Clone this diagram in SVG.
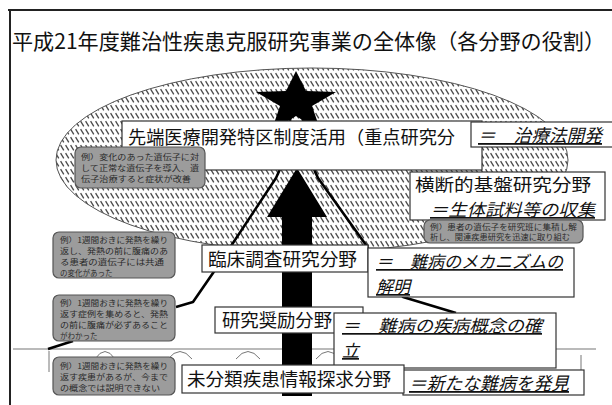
<svg xmlns="http://www.w3.org/2000/svg" width="612" height="405" viewBox="0 0 612 405">
<defs>
<pattern id="hatch" width="5" height="8" patternUnits="userSpaceOnUse">
<rect width="5" height="8" fill="#ffffff"/>
<line x1="0.6" y1="1.2" x2="3.8" y2="6.3" stroke="#4a4a4a" stroke-width="1.3"/>
</pattern>
<style>
.t{font-family:"Noto Sans CJK JP","Noto Sans CJK SC",sans-serif;fill:#111;}
.lbl{font-size:18px;}
.it{font-size:18px;font-style:italic;text-decoration:underline;}
.it2{font-size:17px;font-style:italic;text-decoration:underline;}
.box{fill:#fff;stroke:#333;stroke-width:1.2;}
.gbox{fill:#9c9c9c;stroke:#555;stroke-width:1.2;}
.gt{font-family:"Noto Sans CJK JP",sans-serif;font-size:7.5px;fill:#2a2a2a;}
.ln{fill:none;stroke:#000;stroke-width:2.6;stroke-linejoin:round;}
.thin{fill:none;stroke:#777;stroke-width:1;}
</style>
</defs>
<rect width="612" height="405" fill="#ffffff"/>
<g id="frame">
<line x1="8" y1="10" x2="612" y2="10" stroke="#222" stroke-width="2"/>
<line x1="10" y1="10" x2="10" y2="405" stroke="#222" stroke-width="2"/>
</g>
<g id="title">
<text class="t" x="12" y="49" font-size="21" textLength="593" lengthAdjust="spacingAndGlyphs">平成21年度難治性疾患克服研究事業の全体像（各分野の役割）</text>
</g>
<g id="ellipse">
<ellipse cx="312" cy="160" rx="256" ry="92" fill="url(#hatch)" stroke="#555" stroke-width="1"/>
</g>
<g id="ground">
<line x1="13" y1="349" x2="596" y2="349" stroke="#777" stroke-width="1.2"/>
<path class="thin" d="M95 359 Q105 344 115 359 M168 359 Q180 344 192 359 M236 359 Q248 344 260 359 M316 359 Q328 344 340 359"/>
<line x1="49" y1="351" x2="49" y2="372" stroke="#777" stroke-width="1"/>
<line x1="581" y1="355" x2="581" y2="371" stroke="#777" stroke-width="1"/>
</g>
<g id="star">
<polygon points="296,71 306,91 336,92 312,106 321,132 296,116 271,132 280,106 256,92 286,91" fill="#000"/>
</g>
<g id="connectors">
<path class="ln" d="M291 112 C288 140 285 160 276 178 L233 243 L213 273 L193 302 L176 307"/>
<path class="ln" d="M302 112 C305 140 309 160 318 178 L366 245 L380 270 L403 297 L456 313"/>
<path class="ln" d="M48 349 L73 341"/>
</g>
<g id="arrow">
<polygon points="297,168 327,217 312,217 312,396 282,396 282,217 267,217" fill="#000"/>
</g>
<g id="node-sentan">
<rect class="box" x="122" y="121" width="360" height="49"/>
<text class="t lbl" x="128" y="144" textLength="327" lengthAdjust="spacingAndGlyphs">先端医療開発特区制度活用（重点研究分</text>
</g>
<g id="node-chiryo">
<rect class="box" x="471" y="122" width="145" height="25"/>
<text class="t it" x="478" y="142" textLength="124" lengthAdjust="spacingAndGlyphs">＝　治療法開発</text>
</g>
<g id="node-oudan">
<rect class="box" x="410" y="172" width="195" height="48"/>
<text class="t lbl" x="415" y="191" font-size="17" textLength="176" lengthAdjust="spacingAndGlyphs" style="font-size:17px">横断的基盤研究分野</text>
<text class="t it2" x="430" y="216" textLength="165" lengthAdjust="spacingAndGlyphs">＝生体試料等の収集</text>
</g>
<g id="node-rinsho">
<rect class="box" x="202" y="245" width="166" height="27"/>
<text class="t lbl" x="208" y="266" textLength="149" lengthAdjust="spacingAndGlyphs">臨床調査研究分野</text>
</g>
<g id="node-mechanism">
<rect class="box" x="368" y="248" width="206" height="49"/>
<text class="t it2" x="376" y="268" textLength="187" lengthAdjust="spacingAndGlyphs">＝　難病のメカニズムの</text>
<text class="t it2" x="376" y="293">解明</text>
</g>
<g id="node-shorei">
<rect class="box" x="215" y="307" width="148" height="26"/>
<text class="t lbl" x="222" y="327" textLength="110" lengthAdjust="spacingAndGlyphs">研究奨励分野</text>
</g>
<g id="node-gainen">
<rect class="box" x="334" y="313" width="222" height="55"/>
<text class="t it2" x="342" y="332" textLength="200" lengthAdjust="spacingAndGlyphs">＝　難病の疾病概念の確</text>
<text class="t it2" x="342" y="357">立</text>
</g>
<g id="node-hakken">
<rect class="box" x="403" y="370" width="181" height="25"/>
<text class="t it" x="409" y="390" textLength="160" lengthAdjust="spacingAndGlyphs">＝新たな難病を発見</text>
</g>
<g id="node-mibunrui">
<rect class="box" x="182" y="365" width="222" height="28"/>
<text class="t lbl" x="187" y="386" textLength="204" lengthAdjust="spacingAndGlyphs">未分類疾患情報探求分野</text>
</g>
<g id="note-1">
<rect class="gbox" x="75" y="147" width="130" height="41" rx="6"/>
<text class="gt" x="81" y="160" textLength="118" lengthAdjust="spacingAndGlyphs">例）変化のあった遺伝子に対</text>
<text class="gt" x="81" y="171" textLength="118" lengthAdjust="spacingAndGlyphs">して正常な遺伝子を導入、遺</text>
<text class="gt" x="81" y="182" textLength="110" lengthAdjust="spacingAndGlyphs">伝子治療すると症状が改善</text>
</g>
<g id="note-2">
<rect class="gbox" x="53" y="232" width="122" height="46" rx="6"/>
<text class="gt" x="60" y="243" textLength="108" lengthAdjust="spacingAndGlyphs">例）1週間おきに発熱を繰り</text>
<text class="gt" x="60" y="254" textLength="108" lengthAdjust="spacingAndGlyphs">返し、発熱の前に腹痛のあ</text>
<text class="gt" x="60" y="265" textLength="104" lengthAdjust="spacingAndGlyphs">る患者の遺伝子には共通</text>
<text class="gt" x="60" y="276">の変化があった</text>
</g>
<g id="note-3">
<rect class="gbox" x="53" y="295" width="122" height="46" rx="6"/>
<text class="gt" x="60" y="306" textLength="108" lengthAdjust="spacingAndGlyphs">例）1週間おきに発熱を繰り</text>
<text class="gt" x="60" y="317" textLength="108" lengthAdjust="spacingAndGlyphs">返す症例を集めると、発熱</text>
<text class="gt" x="60" y="328" textLength="108" lengthAdjust="spacingAndGlyphs">の前に腹痛が必ずあること</text>
<text class="gt" x="60" y="339">がわかった</text>
</g>
<g id="note-4">
<rect class="gbox" x="53" y="357" width="122" height="38" rx="6"/>
<text class="gt" x="60" y="369" textLength="108" lengthAdjust="spacingAndGlyphs">例）1週間おきに発熱を繰り</text>
<text class="gt" x="60" y="380" textLength="108" lengthAdjust="spacingAndGlyphs">返す疾患があるが、今まで</text>
<text class="gt" x="60" y="391" textLength="100" lengthAdjust="spacingAndGlyphs">の概念では説明できない</text>
</g>
<g id="note-5">
<rect class="gbox" x="424" y="220" width="159" height="23" rx="6"/>
<text class="gt" x="430" y="230" textLength="147" lengthAdjust="spacingAndGlyphs">例）患者の遺伝子を研究班に集積し解</text>
<text class="gt" x="430" y="240" textLength="140" lengthAdjust="spacingAndGlyphs">析し、関連疾患研究を迅速に取り組む</text>
</g>
</svg>
